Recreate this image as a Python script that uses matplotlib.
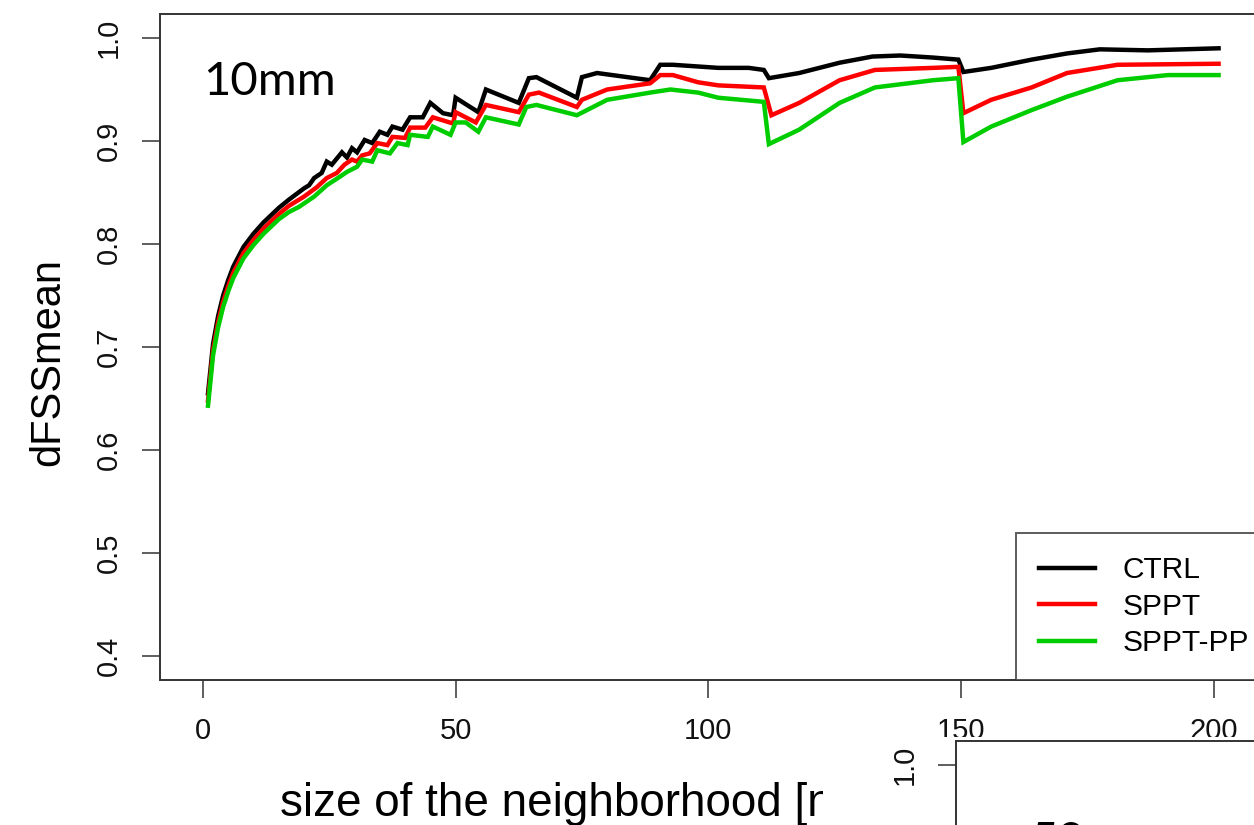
import matplotlib
matplotlib.use("Agg")
import matplotlib.pyplot as plt
from matplotlib.patches import Rectangle

# dFSS mean vs neighbourhood size, 10 mm threshold
ctrl_x = [1, 2, 3, 4, 5, 6, 8, 10, 12, 15, 17, 20, 21, 22, 23.5, 24.5, 25.5,
          27.5, 28.5, 29.5, 30.5, 32, 33.5, 35, 36.5, 37.5, 39.5, 41, 43.5,
          45, 47.5, 49.5, 50, 54.5, 56, 62.5, 64.5, 66, 74, 75, 78, 88.5,
          90.5, 93, 102, 108, 111, 112, 118, 126, 132.5, 138, 144.5, 149.5,
          150.5, 156, 164, 171, 177.5, 187, 201]
ctrl_y = [0.655, 0.703, 0.730, 0.750, 0.765, 0.778, 0.797, 0.810, 0.821,
          0.835, 0.843, 0.854, 0.857, 0.864, 0.869, 0.880, 0.877, 0.889,
          0.884, 0.893, 0.889, 0.901, 0.898, 0.909, 0.906, 0.914, 0.911,
          0.923, 0.923, 0.937, 0.927, 0.925, 0.942, 0.928, 0.950, 0.937,
          0.961, 0.962, 0.942, 0.962, 0.966, 0.959, 0.974, 0.974, 0.971,
          0.971, 0.969, 0.961, 0.966, 0.976, 0.982, 0.983, 0.981, 0.979,
          0.967, 0.971, 0.979, 0.985, 0.989, 0.988, 0.990]

sppt_x = [1, 2, 3, 4, 5, 6, 8, 10, 12, 15, 17, 20, 22.5, 24.5, 26.5, 28,
          29.5, 30.5, 31.5, 33, 34.5, 36.5, 37.5, 40, 41, 44, 45.5, 49.5, 50,
          54, 56, 62.5, 64.5, 66.5, 74, 75, 80, 88.5, 90.5, 93, 98, 102, 111,
          112.5, 118, 126, 133, 144.5, 149.5, 150.5, 156, 164, 171, 181, 201]
sppt_y = [0.648, 0.697, 0.724, 0.744, 0.759, 0.772, 0.791, 0.804, 0.815,
          0.829, 0.837, 0.846, 0.855, 0.864, 0.869, 0.877, 0.882, 0.880,
          0.886, 0.888, 0.898, 0.896, 0.904, 0.903, 0.913, 0.913, 0.923,
          0.917, 0.928, 0.918, 0.935, 0.928, 0.945, 0.947, 0.933, 0.940,
          0.950, 0.956, 0.964, 0.964, 0.957, 0.954, 0.952, 0.925, 0.937,
          0.959, 0.969, 0.971, 0.972, 0.927, 0.940, 0.952, 0.966, 0.974,
          0.975]

ppp_x = [1, 2, 3, 4, 5, 6, 8, 10, 12, 15, 17, 19, 22, 24.5, 27, 28.5, 30.5,
         31.5, 33.5, 34.5, 37, 38.5, 40.5, 41, 44.5, 45.5, 49, 50, 52, 54.5,
         56, 62.5, 64, 66, 74, 80, 88.5, 92.5, 98, 102, 111, 112, 118, 126,
         133, 144.5, 149.5, 150.5, 156, 164, 171, 181, 191, 201]
ppp_y = [0.643, 0.692, 0.719, 0.739, 0.754, 0.767, 0.786, 0.799, 0.810,
         0.824, 0.831, 0.836, 0.846, 0.857, 0.865, 0.870, 0.875, 0.882,
         0.880, 0.891, 0.888, 0.898, 0.896, 0.906, 0.904, 0.914, 0.906,
         0.918, 0.918, 0.909, 0.923, 0.916, 0.933, 0.935, 0.925, 0.940,
         0.947, 0.950, 0.947, 0.942, 0.938, 0.897, 0.911, 0.937, 0.952,
         0.959, 0.961, 0.899, 0.914, 0.930, 0.943, 0.959, 0.964, 0.964]

labels = ["CTRL", "SPPT", "SPPT-PP"]
colors = ["#000000", "#ff0000", "#00cd00"]
xticks = [0, 50, 100, 150, 200]
yticks = [0.4, 0.5, 0.6, 0.7, 0.8, 0.9, 1.0]

plt.rcParams["font.family"] = ["Liberation Sans", "DejaVu Sans"]
title_font = ["Lato", "Open Sans", "Liberation Sans"]

W, H = 1254, 825
fig = plt.figure(figsize=(W / 100, H / 100), dpi=100)

def box(x0, y0, x1, y1):
    # pixel box (top-left origin) -> figure fraction rect
    return [x0 / W, 1 - y1 / H, (x1 - x0) / W, (y1 - y0) / H]

frame = "#333333"

def style_axes(a):
    a.set_xlim(-8.5, 209)
    a.set_ylim(0.3767, 1.0233)
    a.tick_params(length=13, width=1.1, color=frame, labelsize=21, pad=13.5,
                  labelcolor="#111111")
    for lab in a.get_yticklabels():
        lab.set_rotation(90)
        lab.set_va("center")
    for s in a.spines.values():
        s.set_color(frame)
        s.set_linewidth(1.4)

ax = fig.add_axes(box(160, 14, 1259, 680))
for xs, ys, lab, c in zip([ctrl_x, sppt_x, ppp_x], [ctrl_y, sppt_y, ppp_y], labels, colors):
    ax.plot(xs, ys, color=c, lw=3.2, label=lab, solid_joinstyle="miter")
ax.set_xticks(xticks)
ax.set_yticks(yticks)
ax.set_yticklabels([f"{v:.1f}" for v in yticks])
style_axes(ax)

leg = ax.legend(loc="lower left", bbox_to_anchor=(1016 / W, 1 - 680 / H),
                bbox_transform=fig.transFigure, fontsize=21.5, frameon=True,
                fancybox=False, handlelength=1.87, handletextpad=0.94,
                labelspacing=0.28, borderpad=0.77, borderaxespad=0)
leg.get_frame().set_edgecolor(frame)
leg.get_frame().set_linewidth(1.4)
for h in leg.get_lines():
    h.set_linewidth(3.2)

fig.text(203 / W, 1 - 95 / H, "10mm", fontsize=34, family=title_font,
         ha="left", va="baseline")
fig.text(48 / W, 1 - 362 / H, "dFSSmean", fontsize=30, rotation=90,
         ha="center", va="center")
fig.text(280 / W, 1 - 816 / H, "size of the neighborhood [number of grid points]",
         fontsize=33, ha="left", va="baseline", zorder=0.5)

# second panel placed underneath, partly visible
fig.patches.append(Rectangle((823 / W, 0), 1 - 823 / W, (H - 737) / H,
                             transform=fig.transFigure, facecolor="white",
                             edgecolor="none", zorder=1))
ax2 = fig.add_axes(box(956, 741, 1259, 1407), zorder=2)
ax2.set_yticks([1.0])
ax2.set_yticklabels(["1.0"])
ax2.set_xticks(xticks)
style_axes(ax2)
fig.text(1030 / W, 1 - 855 / H, "50mm", fontsize=34, family=title_font,
         ha="left", va="baseline", zorder=3)

fig.savefig("out.png", dpi=100)
